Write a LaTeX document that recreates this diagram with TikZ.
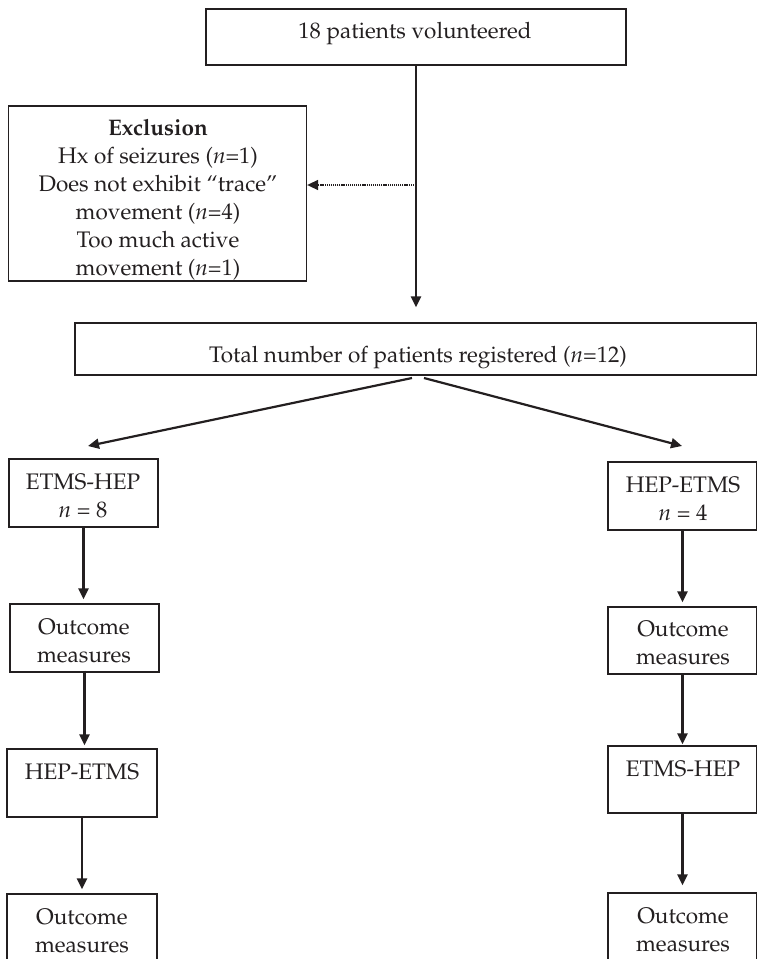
\documentclass[tikz,border=0pt]{standalone}
\usepackage[T1]{fontenc}
\usepackage{mathpazo}
\usetikzlibrary{arrows.meta}
\definecolor{ink}{HTML}{231F20}
\newcommand{\tstr}{\rule{0pt}{18pt}}
\begin{document}
\begin{tikzpicture}[x=1pt,y=-1pt,
  box/.style={draw=ink, line width=1.3pt, inner sep=0pt},
  txt/.style={anchor=north, inner sep=0pt, align=center, text=ink,
    font=\fontsize{22.5}{28}\selectfont},
  arr/.style={draw=ink, line width=2.2pt, -{Triangle[length=11pt,width=10pt]}},
  dotarr/.style={draw=ink, line width=1.6pt, dash pattern=on 1.2pt off 0.9pt,
    -{Triangle[length=11pt,width=10pt]}}
]
\useasboundingbox (0,0) rectangle (756,959);

% boxes
\node[box, minimum width=420pt, minimum height=56pt] (vol) at (416,37) {};
\node[box, minimum width=298pt, minimum height=175pt] (excl) at (157.5,193.5) {};
\node[box, minimum width=682pt, minimum height=52pt] (tot) at (416,349) {};
\node[box, minimum width=149pt, minimum height=68pt] (la) at (83.5,493) {};
\node[box, minimum width=149pt, minimum height=68pt] (ra) at (682.5,496) {};
\node[box, minimum width=149pt, minimum height=68pt] (lb) at (84.5,638) {};
\node[box, minimum width=149pt, minimum height=67pt] (rb) at (682.5,640.5) {};
\node[box, minimum width=150pt, minimum height=68pt] (lc) at (82,783) {};
\node[box, minimum width=149pt, minimum height=67pt] (rc) at (682.5,779.5) {};
\node[box, minimum width=150pt, minimum height=68pt] (ld) at (82,928) {};
\node[box, minimum width=149pt, minimum height=68pt] (rd) at (682.5,927) {};

% texts (first baseline = y + 18)
\node[txt] (volt) at (415,20) {\tstr 18 patients volunteered};
\node[txt] (exclt) at (158,117) {\tstr\textbf{Exclusion}\\Hx of seizures (\textit{n}=1)\\Does not exhibit ``trace''\\movement (\textit{n}=4)\\Too much active\\movement (\textit{n}=1)};
\node[txt] (tott) at (418,344) {\tstr Total number of patients registered (\textit{n}=12)};
\node[txt] (lat) at (83,471) {\tstr ETMS-HEP\\\textit{n} = 8};
\node[txt] (rat) at (683,474) {\tstr HEP-ETMS\\\textit{n} = 4};
\node[txt] (lbt) at (84,616) {\tstr Outcome\\measures};
\node[txt] (rbt) at (683,618) {\tstr Outcome\\measures};
\node[txt] (lct) at (82,761) {\tstr HEP-ETMS};
\node[txt] (rct) at (683,758) {\tstr ETMS-HEP};
\node[txt] (ldt) at (82,906) {\tstr Outcome\\measures};
\node[txt] (rdt) at (683,905) {\tstr Outcome\\measures};

% connectors
\draw[arr, shorten >=15pt] (vol.south) -- (vol.south |- tot.north);
\coordinate (d0) at (416,185);
\draw[dotarr] (d0) -- (d0 -| excl.east);

\coordinate (s1) at (412,378);
\coordinate (e1) at (88,446);
\coordinate (s2) at (424,378);
\coordinate (e2) at (682,446);
\draw[arr] (s1) -- (e1);
\draw[arr] (s2) -- (e2);

\draw[arr, shorten >=4pt] (la.south) -- (la.south |- lb.north);
\draw[arr, shorten >=3pt] ([yshift=2pt]lb.south) -- (lb.south |- lc.north);
\draw[arr, shorten >=4pt] (lc.south) -- (lc.south |- ld.north);
\draw[arr, shorten >=4pt] (ra.south) -- (ra.south |- rb.north);
\draw[arr, shorten >=1pt] (rb.south) -- (rb.south |- rc.north);
\draw[arr, shorten >=7pt] (rc.south) -- (rc.south |- rd.north);
\end{tikzpicture}
\end{document}
